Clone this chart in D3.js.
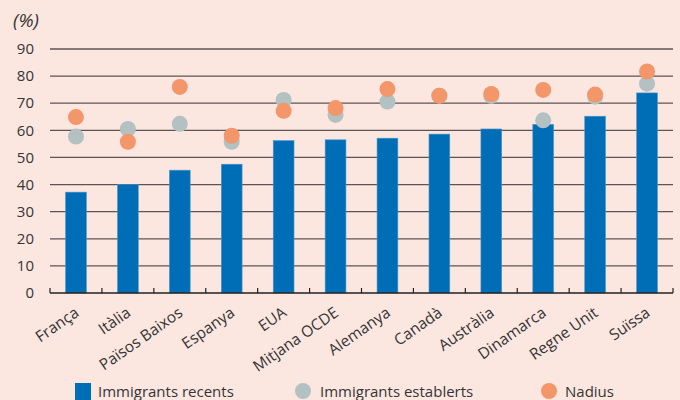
<!DOCTYPE html>
<html><head><meta charset="utf-8">
<script src="https://cdn.jsdelivr.net/npm/d3@7"></script>
<style>
html,body{margin:0;padding:0;background:#FBE6E0;}
svg{display:block;font-family:"Open Sans","Noto Sans",sans-serif;}
</style></head>
<body><svg id="c" width="680" height="400"></svg>
<script>
const categories = ["França","Itàlia","Països Baixos","Espanya","EUA","Mitjana OCDE","Alemanya","Canadà","Austràlia","Dinamarca","Regne Unit","Suïssa"];
const recents    = [37.2, 40.0, 45.3, 47.5, 56.2, 56.5, 57.1, 58.6, 60.5, 62.2, 65.2, 73.8];
const establerts = [57.7, 60.5, 62.4, 55.8, 71.2, 65.7, 70.6, 72.8, 72.7, 63.7, 72.4, 77.2];
const nadius     = [64.9, 55.8, 76.0, 58.0, 67.2, 68.2, 75.2, 72.8, 73.4, 74.9, 73.2, 81.7];
const yTicks = [0,10,20,30,40,50,60,70,80,90];
const seriesNames = ["Immigrants recents","Immigrants establerts","Nadius"];

const colBar = "#006EB6", colGray = "#B3C1C3", colOrange = "#F3966A", colGrid = "#5E5454", colText = "#353535";
const svg = d3.select("#c");
svg.append("rect").attr("width",680).attr("height",400).attr("fill","#FBE6E0");

const x = d3.scaleBand().domain(categories).range([50,673]).paddingInner(0).paddingOuter(0);
const y = d3.scaleLinear().domain([0,90]).range([293,49]);

// gridlines
svg.append("g").selectAll("line").data(yTicks.filter(d=>d>0)).join("line")
  .attr("x1",50).attr("x2",673).attr("y1",d=>y(d)).attr("y2",d=>y(d))
  .attr("stroke",colGrid).attr("stroke-width",1.3);

// y labels
svg.append("g").selectAll("text").data(yTicks).join("text")
  .attr("x",34).attr("y",d=>y(d)).attr("dy","0.35em").attr("text-anchor","end")
  .attr("font-size",15).attr("fill",colText).text(d=>d);
svg.append("text").attr("x",13).attr("y",27).attr("font-size",19).attr("font-style","italic")
  .attr("fill",colText).text("(%)");

// bars
const bw = x.bandwidth()*0.4;
svg.append("g").selectAll("rect").data(recents).join("rect")
  .attr("x",(d,i)=>x(categories[i])+x.bandwidth()/2-bw/2).attr("width",bw)
  .attr("y",d=>y(d)).attr("height",d=>y(0)-y(d))
  .attr("fill",colBar).attr("stroke","#4C93C8").attr("stroke-width",0.6);

// dots
svg.append("g").selectAll("circle").data(establerts).join("circle")
  .attr("cx",(d,i)=>x(categories[i])+x.bandwidth()/2).attr("cy",d=>y(d)).attr("r",8).attr("fill",colGray);
svg.append("g").selectAll("circle").data(nadius).join("circle")
  .attr("cx",(d,i)=>x(categories[i])+x.bandwidth()/2).attr("cy",d=>y(d)).attr("r",8).attr("fill",colOrange);

// x axis
const xa = svg.append("g").attr("transform","translate(0,293)");
xa.append("line").attr("x1",50).attr("x2",673).attr("stroke","#222").attr("stroke-width",1.5);
const bounds = categories.map(c=>x(c)).concat([x.range()[1]]);
xa.selectAll("line.t").data(bounds).join("line").attr("class","t")
  .attr("x1",d=>d).attr("x2",d=>d).attr("y1",0).attr("y2",-5).attr("stroke","#222").attr("stroke-width",1.2);
xa.selectAll("text").data(categories).join("text")
  .attr("transform",c=>`translate(${x(c)+x.bandwidth()/2+4},${22}) rotate(-35)`)
  .attr("text-anchor","end").attr("font-size",15.5).attr("fill",colText).text(c=>c);

// legend
const lg = svg.append("g");
lg.append("rect").attr("x",75).attr("y",383).attr("width",16).attr("height",17).attr("fill",colBar);
lg.append("text").attr("x",98).attr("y",397).attr("font-size",15).attr("fill",colText).text(seriesNames[0]);
lg.append("circle").attr("cx",303).attr("cy",391).attr("r",8).attr("fill",colGray);
lg.append("text").attr("x",320).attr("y",397).attr("font-size",15).attr("fill",colText).text(seriesNames[1]);
lg.append("circle").attr("cx",549).attr("cy",391).attr("r",8).attr("fill",colOrange);
lg.append("text").attr("x",565).attr("y",397).attr("font-size",15).attr("fill",colText).text(seriesNames[2]);
</script></body></html>
